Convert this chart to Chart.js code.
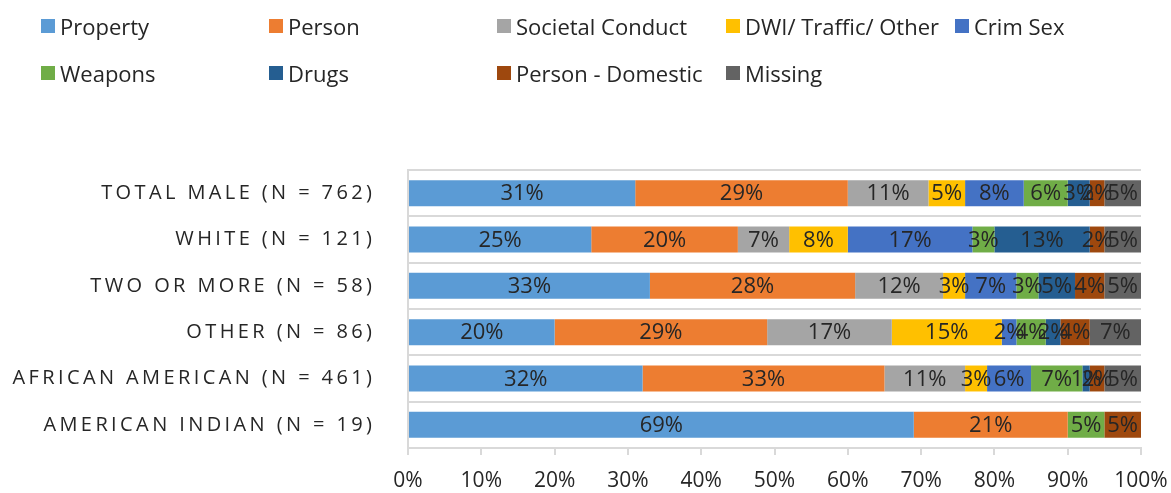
<!DOCTYPE html>
<html>
<head>
<meta charset="utf-8">
<script src="https://cdn.jsdelivr.net/npm/chart.js@4.4.1/dist/chart.umd.min.js"></script>
<style>
  html, body { margin: 0; padding: 0; background: #ffffff; }
  #wrap { position: relative; width: 1171px; height: 493px; overflow: hidden; }
  #chart { position: absolute; left: 0; top: 0; }
  #legend { position: absolute; left: 0; top: 0; width: 1171px; height: 100px; font-family: 'Open Sans', sans-serif; font-size: 22px; color: #262626; }
  .item { position: absolute; display: flex; align-items: center; white-space: nowrap; }
  .sw { width: 14px; height: 14px; margin-right: 5px; flex: none; }
</style>
</head>
<body>
<div id="wrap">
  <canvas id="chart" width="1171" height="493"></canvas>
  <div id="legend"></div>
</div>
<script>
const categories = ['TOTAL MALE (N = 762)', 'WHITE (N = 121)', 'TWO OR MORE (N = 58)', 'OTHER (N = 86)', 'AFRICAN AMERICAN (N = 461)', 'AMERICAN INDIAN (N = 19)'];
const seriesNames = ['Property', 'Person', 'Societal Conduct', 'DWI/ Traffic/ Other', 'Crim Sex', 'Weapons', 'Drugs', 'Person - Domestic', 'Missing'];
const property       = [31, 25, 33, 20, 32, 69];
const person         = [29, 20, 28, 29, 33, 21];
const societal       = [11,  7, 12, 17, 11,  0];
const dwi            = [ 5,  8,  3, 15,  3,  0];
const crimSex        = [ 8, 17,  7,  2,  6,  0];
const weapons        = [ 6,  3,  3,  4,  7,  5];
const drugs          = [ 3, 13,  5,  2,  1,  0];
const personDomestic = [ 2,  2,  4,  4,  2,  5];
const missing        = [ 5,  5,  5,  7,  5,  0];
const xTicks = [0, 10, 20, 30, 40, 50, 60, 70, 80, 90, 100];

const seriesValues = [property, person, societal, dwi, crimSex, weapons, drugs, personDomestic, missing];
const colors = ['#5B9BD5', '#ED7D31', '#A5A5A5', '#FFC000', '#4472C4', '#70AD47', '#255E91', '#9E480E', '#636363'];

// HTML legend in two rows aligned to columns
const legendEl = document.getElementById('legend');
const colX = [41, 269, 497, 726, 955];
const rowY = [26, 73];
seriesNames.forEach((name, i) => {
  const row = i < 5 ? 0 : 1;
  const col = i < 5 ? i : i - 5;
  const d = document.createElement('div');
  d.className = 'item';
  d.style.left = colX[col] + 'px';
  d.style.top = (rowY[row] - 15) + 'px';
  d.style.height = '30px';
  d.innerHTML = '<span class="sw" style="background:' + colors[i] + '"></span><span>' + name + '</span>';
  legendEl.appendChild(d);
});

const FONT = "'Open Sans', sans-serif";
const Y_LETTER_SPACING = 3.4;

const labelPlugin = {
  id: 'labelsAndSpacing',
  beforeDraw(chart) {
    chart.ctx.letterSpacing = '0px';
  },
  afterDatasetsDraw(chart) {
    const ctx = chart.ctx;
    ctx.save();
    ctx.letterSpacing = '0px';
    ctx.font = '22px ' + FONT;
    ctx.fillStyle = '#262626';
    ctx.textAlign = 'center';
    ctx.textBaseline = 'middle';
    chart.data.datasets.forEach((ds, di) => {
      const meta = chart.getDatasetMeta(di);
      meta.data.forEach((el, j) => {
        const v = ds.data[j];
        if (!v) return;
        const p = el.getCenterPoint();
        ctx.fillText(v + '%', p.x, p.y + 1);
      });
    });
    ctx.restore();
    ctx.letterSpacing = Y_LETTER_SPACING + 'px';
  },
  afterDraw(chart) {
    chart.ctx.letterSpacing = '0px';
  }
};

new Chart(document.getElementById('chart'), {
  type: 'bar',
  data: {
    labels: categories,
    datasets: seriesNames.map((name, i) => ({
      label: name,
      data: seriesValues[i],
      backgroundColor: colors[i],
      borderWidth: 0,
      barPercentage: 0.56,
      categoryPercentage: 1.0
    }))
  },
  options: {
    indexAxis: 'y',
    responsive: false,
    animation: false,
    devicePixelRatio: 1,
    layout: { padding: { top: 170, right: 30, bottom: 0, left: 0 } },
    plugins: {
      legend: { display: false },
      tooltip: { enabled: false }
    },
    scales: {
      x: {
        stacked: true,
        min: 0,
        max: 100,
        afterBuildTicks(scale) { scale.ticks = xTicks.map(v => ({ value: v })); },
        afterFit(scale) { scale.paddingLeft = 0; scale.paddingRight = 0; scale.height = 45; },
        ticks: {
          callback: (v) => v + '%',
          font: { family: FONT, size: 21 },
          color: '#262626',
          padding: 13,
          maxRotation: 0,
          autoSkip: false
        },
        grid: { drawOnChartArea: false, drawTicks: true, tickLength: 7, color: '#D9D9D9', lineWidth: 2 },
        border: { display: true, color: '#D9D9D9', width: 2 }
      },
      y: {
        stacked: true,
        afterFit(scale) { scale.width = 408; scale.paddingTop = 0; scale.paddingBottom = 0; },
        ticks: {
          z: 1,
          font: { family: FONT, size: 20 },
          color: '#262626',
          padding: 36 - Y_LETTER_SPACING,
          autoSkip: false
        },
        grid: { offset: true, drawTicks: false, color: '#D9D9D9', lineWidth: 2 },
        border: { display: true, color: '#D9D9D9', width: 2 }
      }
    }
  },
  plugins: [labelPlugin]
});
</script>
</body>
</html>
